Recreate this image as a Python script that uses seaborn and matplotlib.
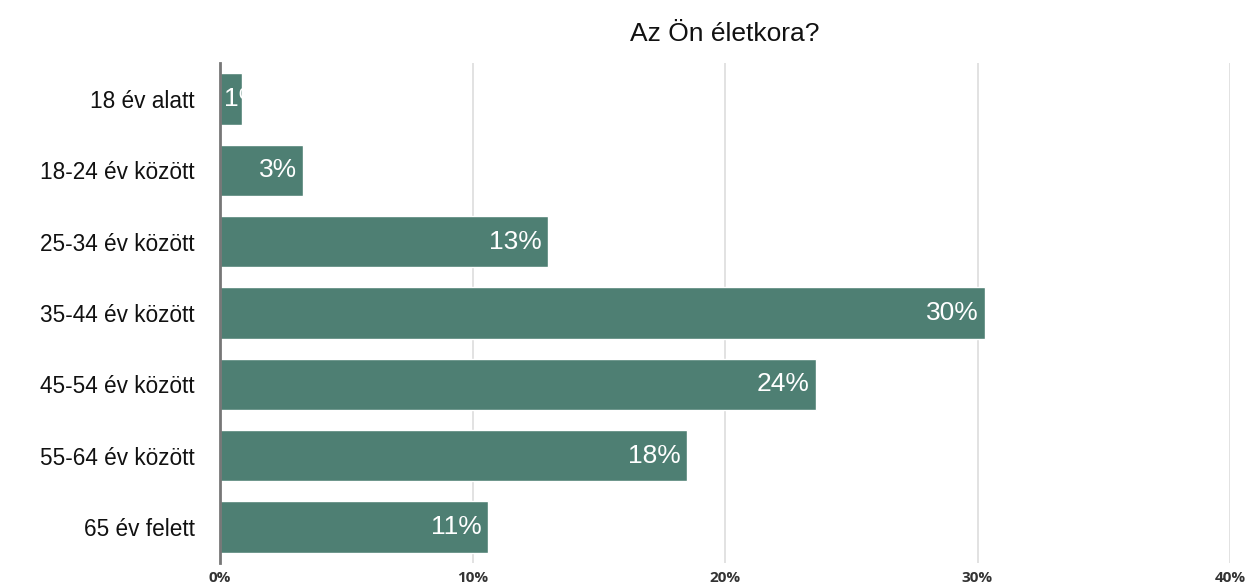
import matplotlib
matplotlib.use("Agg")
import matplotlib.pyplot as plt
import seaborn as sns
import pandas as pd

# Data
categories = ["18 év alatt", "18-24 év között", "25-34 év között", "35-44 év között",
              "45-54 év között", "55-64 év között", "65 év felett"]
values = [0.87, 3.3, 13.0, 30.3, 23.6, 18.5, 10.6]
labels = ["1%", "3%", "13%", "30%", "24%", "18%", "11%"]
xticks = [0, 10, 20, 30, 40]
xtick_labels = ["0%", "10%", "20%", "30%", "40%"]
title = "Az Ön életkora?"

df = pd.DataFrame({"kategoria": categories, "ertek": values})

sns.set_style("white")
plt.rcParams["font.family"] = ["Liberation Sans", "DejaVu Sans"]

fig = plt.figure(figsize=(12.45, 5.86), dpi=100)
ax = fig.add_axes([220 / 1245, 0.040, (1230 - 220) / 1245, 0.852])

sns.barplot(data=df, x="ertek", y="kategoria", color="#4e7f73", saturation=1,
            width=0.72, ax=ax)

ax.set_xlim(0, 40)
ax.set_xticks(xticks)
ax.set_xticklabels(xtick_labels, fontsize=11, color="#333333", fontweight="bold",
                   family=["Open Sans", "DejaVu Sans"])
ax.tick_params(axis="x", length=0, pad=6)
ax.tick_params(axis="y", length=0, pad=18, labelsize=16.3, labelcolor="#111111")
ax.set_xlabel("")
ax.set_ylabel("")
ax.xaxis.grid(True, color="#dddddd", linewidth=1.2)
ax.set_axisbelow(True)
for s in ["top", "right", "bottom"]:
    ax.spines[s].set_visible(False)
ax.spines["left"].set_color("#777777")
ax.spines["left"].set_linewidth(2)

# value labels inside bar ends, clipped to the bar
for bar, lab in zip(ax.patches, labels):
    w = bar.get_width()
    y = bar.get_y() + bar.get_height() / 2
    if w < 2:
        t = ax.text(0.15, y, lab, ha="left", va="center", color="white", fontsize=19)
    else:
        t = ax.text(w - 0.25, y, lab, ha="right", va="center", color="white", fontsize=19)
    t.set_clip_path(bar)

fig.suptitle(title, x=(220 + 1230) / 2 / 1245, y=0.962, fontsize=19, color="#111111")

plt.savefig("out.png", dpi=100)
